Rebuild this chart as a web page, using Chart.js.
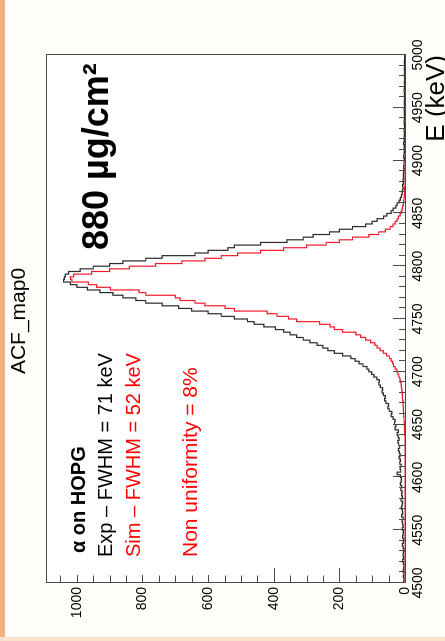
<!DOCTYPE html>
<html>
<head>
<meta charset="utf-8">
<script src="https://cdn.jsdelivr.net/npm/chart.js@4.4.0/dist/chart.umd.min.js"></script>
<style>
  html, body { margin: 0; padding: 0; }
  body { width: 445px; height: 641px; overflow: hidden; background: #fffefa; position: relative; }
  #wrap { position: absolute; left: 0; top: 641px; width: 641px; height: 445px; transform-origin: 0 0; transform: rotate(-90deg); }
  #edgeLeft { position: absolute; left: 0; top: 0; width: 5px; height: 641px; background: #f3b284; }
  #edgeBottom { position: absolute; left: 0; top: 637px; width: 445px; height: 4px; background: #fbe3cb; }
</style>
</head>
<body>
<div id="wrap"><canvas id="myChart" width="641" height="445"></canvas></div>
<div id="edgeLeft"></div>
<div id="edgeBottom"></div>
<script>
// histogram bins: 4500 .. 5000 keV, 2.5 keV wide
const binStart = 4500;
const binWidth = 2.5;

// measured spectrum (black)
const expCounts = [
  2,4,3,5,3,6,4,3,5,7,4,6,5,3,6,8,5,4,7,6,
  5,8,6,7,9,6,10,7,8,11,9,7,12,8,10,9,13,10,14,12,
  11,14,24,13,15,12,16,14,18,15,17,20,16,19,22,18,21,24,20,30,
  28,32,30,36,42,40,48,52,50,58,62,60,66,70,68,75,80,78,86,95,
  102,110,116,128,140,152,165,190,215,235,250,268,290,310,330,350,370,395,430,460,
  480,520,560,600,650,690,740,790,820,860,890,930,968,1000,1020,1040,1038,1035,1025,990,
  950,900,860,790,740,640,600,540,520,440,360,310,280,230,200,160,120,100,85,65,
  55,42,36,28,24,18,14,11,9,8,6,7,5,6,4,5,4,3,4,3,
  3,2,4,3,2,3,2,4,2,3,2,2,3,1,2,3,2,1,2,2,
  3,1,2,2,1,2,1,3,2,1,2,1,1,2,1,2,1,1,2,1
];

// simulated spectrum (red)
const simCounts = [
  0,0,0,0,0,0,0,0,0,0,0,0,0,0,0,0,0,0,0,0,
  0,0,0,0,0,0,0,0,0,0,0,0,0,0,0,0,0,0,0,0,
  0,0,0,0,0,0,0,0,0,0,0,0,0,0,0,0,0,1,1,1,
  2,2,3,3,4,4,5,5,6,6,7,8,8,9,10,11,12,14,16,19,
  22,25,30,35,38,42,48,56,66,76,85,92,105,120,135,150,190,215,228,260,
  330,355,390,420,520,548,610,640,685,700,790,810,898,940,965,1015,1020,1010,955,900,
  840,760,680,610,560,510,440,370,300,240,200,160,110,80,60,45,36,30,24,20,
  15,12,9,7,5,4,3,2,1,1,1,0,0,0,0,0,0,0,0,0,
  0,0,0,0,0,0,0,0,0,0,0,0,0,0,0,0,0,0,0,0,
  0,0,0,0,0,0,0,0,0,0,0,0,0,0,0,0,0,0,0,0
];

const xMin = 4500, xMax = 5000, xStep = 50, xMinorStep = 10;
const yMin = 0, yMax = 1094, yStep = 200, yMinorStep = 50;

const fontName = "'Liberation Sans', Arial, sans-serif";

function histPoints(counts) {
  let pts = [];
  for (let i = 0; i < counts.length; i++) {
    pts.push({ x: binStart + i * binWidth, y: counts[i] });
  }
  pts.push({ x: binStart + counts.length * binWidth, y: counts[counts.length - 1] });
  return pts;
}

// frame, inner ticks and the pasted text boxes
const rootLook = {
  id: 'rootLook',
  beforeDatasetsDraw(chart) {
    const { ctx, chartArea: a } = chart;
    ctx.save();
    ctx.fillStyle = '#ffffff';
    ctx.fillRect(a.left, a.top, a.right - a.left, a.bottom - a.top);
    ctx.restore();
  },
  afterDatasetsDraw(chart) {
    const { ctx, chartArea: a } = chart;
    const xs = chart.scales.x, ys = chart.scales.y;
    ctx.save();
    ctx.strokeStyle = '#4a4a4a';
    ctx.lineWidth = 1;
    ctx.beginPath();
    for (let v = xMin; v <= xMax + 0.01; v += xMinorStep) {
      const px = Math.round(xs.getPixelForValue(v)) + 0.5;
      const len = (Math.round(v) % xStep === 0) ? 12 : 6;
      ctx.moveTo(px, a.bottom);
      ctx.lineTo(px, a.bottom - len);
    }
    for (let v = yMin; v <= yMax; v += yMinorStep) {
      const py = Math.round(ys.getPixelForValue(v)) + 0.5;
      const len = (v % yStep === 0) ? 15 : 7.5;
      ctx.moveTo(a.left, py);
      ctx.lineTo(a.left + len, py);
    }
    ctx.stroke();
    ctx.strokeRect(Math.round(a.left) + 0.5, Math.round(a.top) + 0.5, Math.round(a.right - a.left), Math.round(a.bottom - a.top));

    // white text box covering part of the ticks
    ctx.fillStyle = '#ffffff';
    ctx.fillRect(a.left + 8, 60, 255, 152);

    ctx.textAlign = 'left';
    ctx.textBaseline = 'alphabetic';
    ctx.fillStyle = '#000000';
    ctx.font = 'bold 20px ' + fontName;
    ctx.fillText('α on HOPG', 88, 85);
    ctx.font = '20px ' + fontName;
    ctx.fillText('Exp – FWHM = 71 keV', 84, 112);
    ctx.fillStyle = '#ff0000';
    ctx.fillText('Sim – FWHM = 52 keV', 84, 140);
    ctx.font = '21px ' + fontName;
    ctx.fillText('Non uniformity = 8%', 84, 197);

    ctx.fillStyle = '#000000';
    ctx.font = 'bold 36px ' + fontName;
    ctx.fillText('880 µg/cm²', 391, 108);

    ctx.font = '21px ' + fontName;
    ctx.textAlign = 'center';
    ctx.fillText('ACF_map0', 320, 25);

    ctx.font = '26px ' + fontName;
    ctx.textAlign = 'right';
    ctx.fillText('E (keV)', a.right, 444);
    ctx.restore();
  }
};

const ctx = document.getElementById('myChart').getContext('2d');
const myChart = new Chart(ctx, {
  type: 'line',
  data: {
    datasets: [
      {
        label: 'Exp',
        data: histPoints(expCounts),
        borderColor: '#2b2b2b',
        borderWidth: 1.2,
        pointRadius: 0,
        stepped: 'after',
        fill: false
      },
      {
        label: 'Sim',
        data: histPoints(simCounts),
        borderColor: '#f01c2c',
        borderWidth: 1.2,
        pointRadius: 0,
        stepped: 'after',
        fill: false
      }
    ]
  },
  options: {
    responsive: false,
    animation: false,
    layout: { padding: { top: 46, right: 55, left: 0, bottom: 0 } },
    plugins: {
      legend: { display: false },
      tooltip: { enabled: false },
      title: { display: false }
    },
    scales: {
      x: {
        type: 'linear',
        min: xMin,
        max: xMax,
        grid: { display: false, drawTicks: false },
        border: { display: false },
        ticks: {
          stepSize: xStep,
          autoSkip: false,
          maxRotation: 0,
          padding: 5,
          color: '#000',
          font: { family: fontName, size: 14 },
          callback: v => v
        },
        afterFit: s => { s.height = 40; }
      },
      y: {
        min: yMin,
        max: yMax,
        grid: { display: false, drawTicks: false },
        border: { display: false },
        ticks: {
          stepSize: yStep,
          includeBounds: false,
          padding: 4,
          color: '#000',
          font: { family: fontName, size: 14 },
          callback: v => v
        },
        afterFit: s => { s.height; s.width = 58; }
      }
    }
  },
  plugins: [rootLook]
});
</script>
</body>
</html>
